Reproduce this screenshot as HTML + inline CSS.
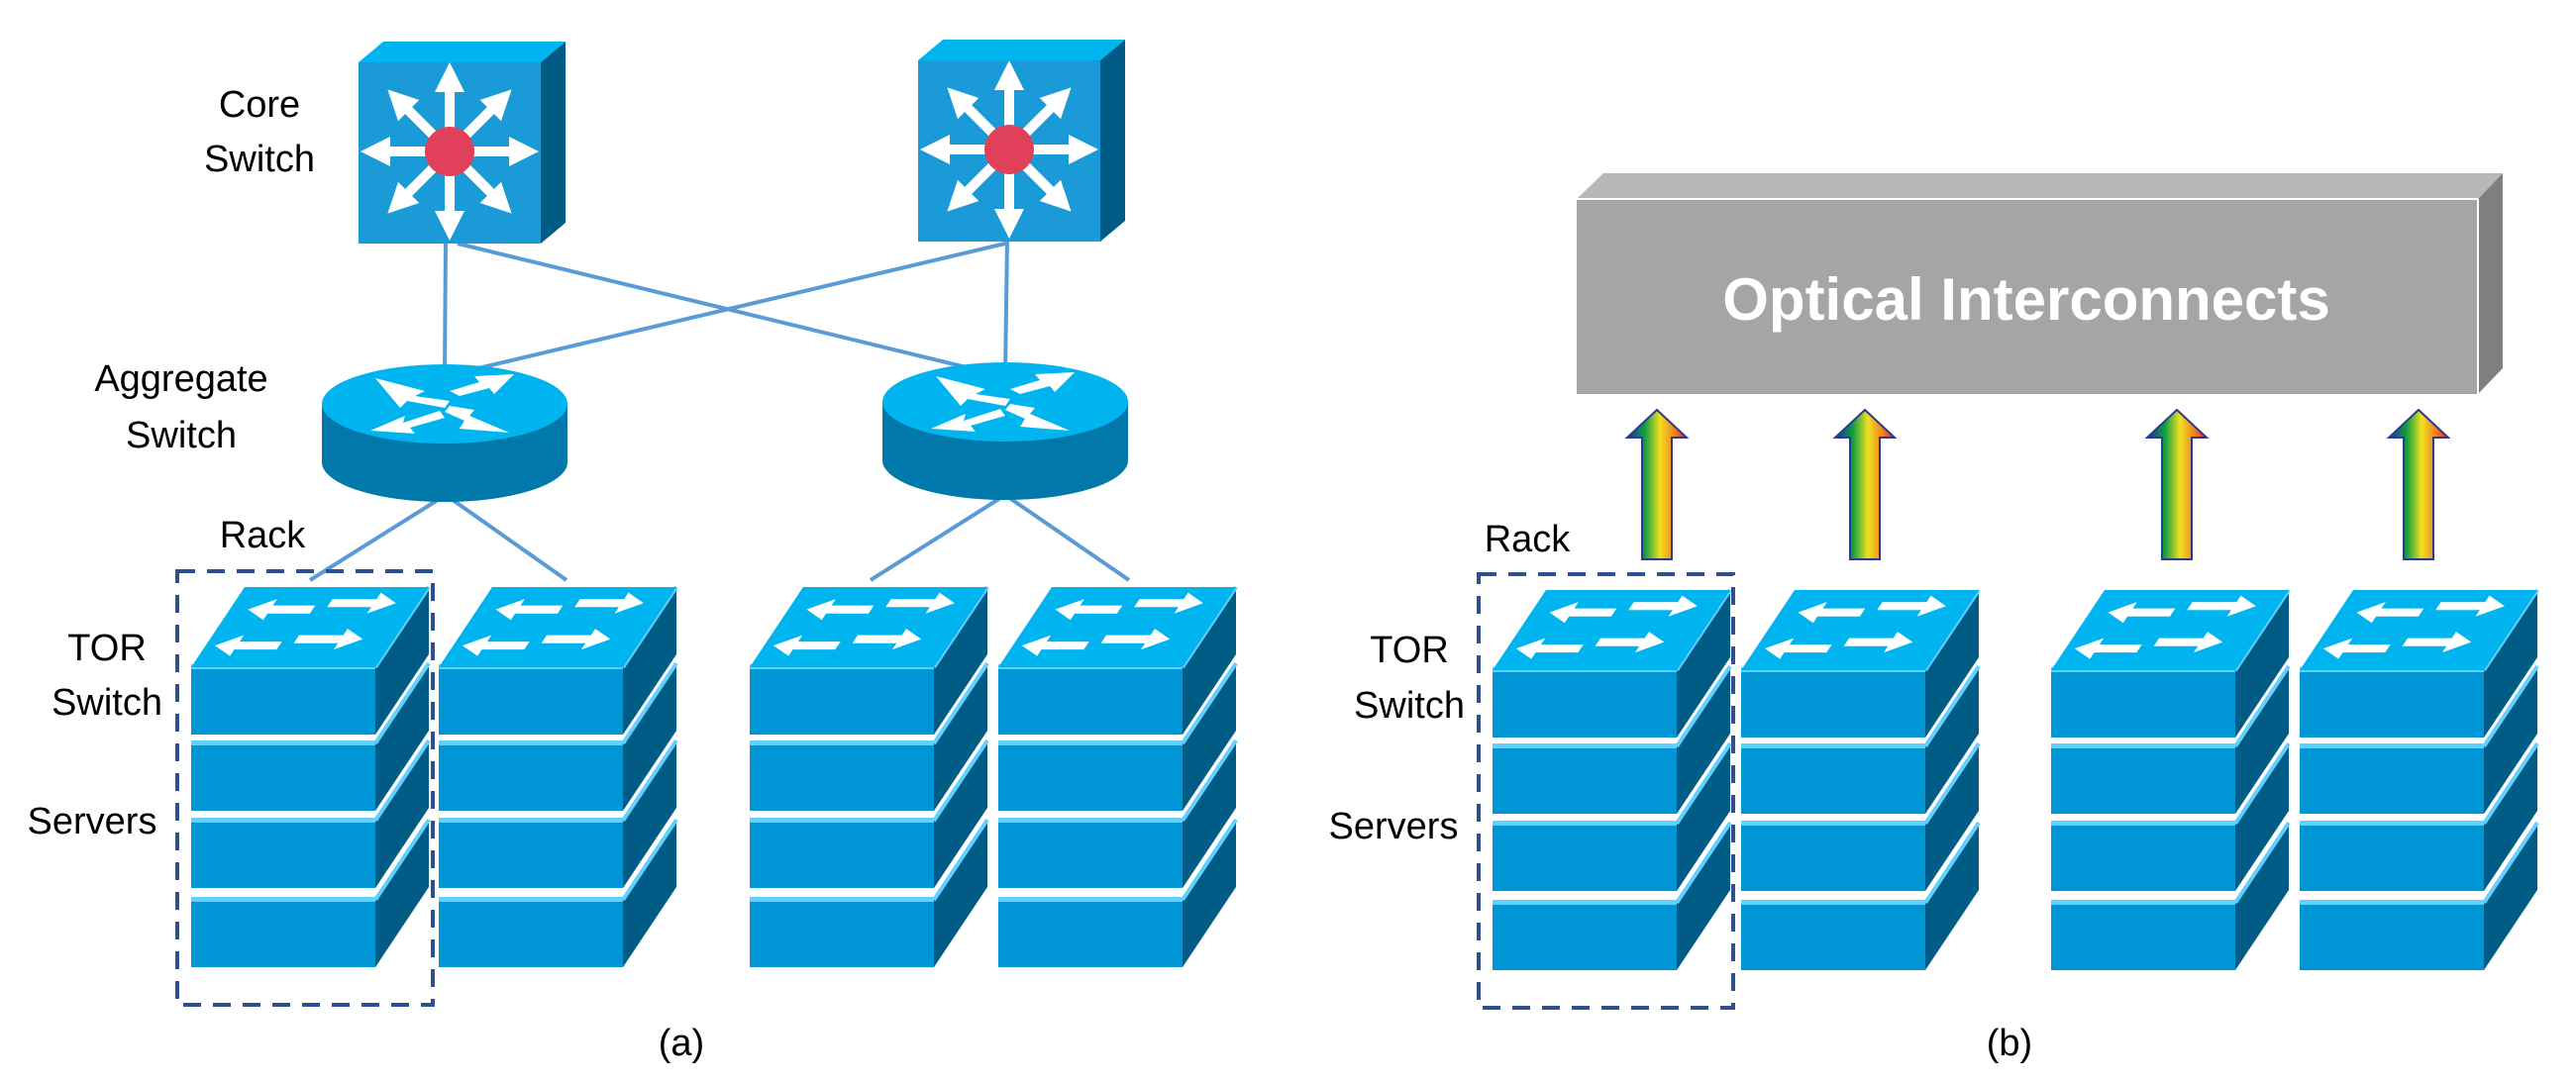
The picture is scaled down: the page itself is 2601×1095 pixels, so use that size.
<!DOCTYPE html>
<html><head><meta charset="utf-8"><style>
html,body{margin:0;padding:0;background:#fff;}
svg{display:block;}
text{font-family:"Liberation Sans",sans-serif;}
</style></head><body>
<svg width="2601" height="1095" viewBox="0 0 2601 1095" xmlns="http://www.w3.org/2000/svg">
<defs>
<linearGradient id="rb" x1="0" x2="1" y1="0" y2="0">
<stop offset="0" stop-color="#1a2aa0"/><stop offset="0.3" stop-color="#10a040"/><stop offset="0.55" stop-color="#f0e020"/><stop offset="0.8" stop-color="#f08020"/><stop offset="1" stop-color="#e02020"/>
</linearGradient>
<marker id="ah" viewBox="0 0 10 10" refX="5" refY="5" markerWidth="3" markerHeight="3" orient="auto"><path d="M0,0L10,5L0,10z" fill="#fff"/></marker>
<g id="box">
<rect x="0" y="0" width="186" height="68" fill="#0096d6"/>
<polygon points="186,0 240,-81 240,-13 186,68" fill="#005c85"/>
<rect x="0" y="-3" width="186" height="5" fill="#5fd0ff"/>
<line x1="186" y1="0" x2="240" y2="-81" stroke="#5fd0ff" stroke-width="4"/>
</g>
<g id="rack">
<use href="#box" y="909"/>
<use href="#box" y="829"/>
<use href="#box" y="751"/>
<use href="#box" y="674"/>
<polygon points="0,674 186,674 240,593 54,593" fill="#00b4ef"/>
<g transform="matrix(186,0,54,-81,0,674)">
<polygon points="0.1,0.72 0.22,0.85 0.22,0.77 0.45,0.77 0.45,0.67 0.22,0.67 0.22,0.59" fill="#fff"/>
<polygon points="0.88,0.8 0.76,0.93 0.76,0.85 0.52,0.85 0.52,0.75 0.76,0.75 0.76,0.67" fill="#fff"/>
<polygon points="0.05,0.27 0.17,0.4 0.17,0.32 0.4,0.32 0.4,0.22 0.17,0.22 0.17,0.14" fill="#fff"/>
<polygon points="0.83,0.35 0.71,0.48 0.71,0.4 0.47,0.4 0.47,0.3 0.71,0.3 0.71,0.22" fill="#fff"/>
</g>
</g>
<g id="core">
<polygon points="0,21 184,21 209,0 25,0" fill="#00b4ef"/>
<polygon points="184,21 209,0 209,183 184,204" fill="#005c85"/>
<rect x="0" y="21" width="184" height="183" fill="#1a9ad6"/>
<g stroke="#fff" stroke-width="10" marker-end="url(#ah)">
<line x1="92" y1="111" x2="92" y2="36"/><line x1="92" y1="111" x2="92" y2="186"/>
<line x1="92" y1="111" x2="17" y2="111"/><line x1="92" y1="111" x2="167" y2="111"/>
<line x1="92" y1="111" x2="40" y2="59"/><line x1="92" y1="111" x2="144" y2="59"/>
<line x1="92" y1="111" x2="40" y2="163"/><line x1="92" y1="111" x2="144" y2="163"/>
</g>
<circle cx="92" cy="111" r="25" fill="#e0405a"/>
</g>
<g id="agg">
<ellipse cx="0" cy="467" rx="124" ry="40" fill="#0078aa"/>
<rect x="-124" y="408" width="248" height="59" fill="#0078aa"/>
<ellipse cx="0" cy="408" rx="124" ry="40" fill="#00b4ef"/>
<g fill="#fff">
<polygon points="-70,382 -20,395 -30,400 5,405 0,412 -38,405 -45,412"/>
<polygon points="70,378 30,380 35,386 5,395 15,400 45,392 50,398"/>
<polygon points="-75,435 -40,420 -42,427 -5,415 0,422 -35,432 -30,438"/>
<polygon points="65,437 25,420 30,414 5,410 0,416 20,425 15,433"/>
</g>
</g>
<g id="arr">
<polygon points="0,0 30,28 15,28 15,151 -15,151 -15,28 -30,28" fill="url(#rb)" stroke="#2a3a90" stroke-width="2"/>
</g>
</defs>

<!-- (a) links -->
<g stroke="#5b9bd5" stroke-width="4" fill="none">
<line x1="450" y1="240" x2="449" y2="380"/>
<line x1="462" y1="246" x2="1021" y2="382"/>
<line x1="1015" y1="246" x2="449" y2="380"/>
<line x1="1017" y1="240" x2="1015" y2="378"/>
<line x1="450" y1="500" x2="313" y2="586"/>
<line x1="450" y1="500" x2="572" y2="586"/>
<line x1="1015" y1="500" x2="879" y2="586"/>
<line x1="1015" y1="500" x2="1140" y2="586"/>
</g>
<use href="#core" x="362" y="42"/>
<use href="#core" x="927" y="40"/>
<use href="#agg" x="449"/>
<use href="#agg" x="1015" y="-2"/>
<use href="#rack" x="193"/>
<use href="#rack" x="443"/>
<use href="#rack" x="757"/>
<use href="#rack" x="1008"/>
<rect x="179" y="577" width="258" height="438" fill="none" stroke="#2f4f8f" stroke-width="4" stroke-dasharray="18,12"/>

<g font-size="38" text-anchor="middle" fill="#000">
<text x="262" y="118">Core</text><text x="262" y="173">Switch</text>
<text x="183" y="395">Aggregate</text><text x="183" y="452">Switch</text>
<text x="265" y="553">Rack</text>
<text x="108" y="667">TOR</text><text x="108" y="722">Switch</text>
<text x="93" y="842">Servers</text>
<text x="688" y="1066">(a)</text>
</g>

<!-- (b) -->
<polygon points="1592,201 2502,201 2527,175 1619,175" fill="#b8b8b8"/>
<polygon points="2502,201 2527,175 2527,372 2502,398" fill="#808080"/>
<rect x="1592" y="201" width="910" height="197" fill="#a5a5a5"/>
<line x1="1592" y1="201" x2="2502" y2="201" stroke="#fff" stroke-width="2"/>
<line x1="2502" y1="201" x2="2502" y2="398" stroke="#fff" stroke-width="2"/>
<text x="2046" y="323" font-size="60" font-weight="bold" fill="#fff" text-anchor="middle">Optical Interconnects</text>

<use href="#arr" x="1673" y="414"/>
<use href="#arr" x="1883" y="414"/>
<use href="#arr" x="2198" y="414"/>
<use href="#arr" x="2442" y="414"/>

<g transform="translate(0,3)">
<use href="#rack" x="1507"/>
<use href="#rack" x="1758"/>
<use href="#rack" x="2071"/>
<use href="#rack" x="2322"/>
</g>
<rect x="1493" y="580" width="257" height="438" fill="none" stroke="#2f4f8f" stroke-width="4" stroke-dasharray="18,12"/>
<g font-size="38" text-anchor="middle" fill="#000">
<text x="1542" y="557">Rack</text>
<text x="1423" y="669">TOR</text><text x="1423" y="725">Switch</text>
<text x="1407" y="847">Servers</text>
<text x="2029" y="1066">(b)</text>
</g>
</svg>
</body></html>
